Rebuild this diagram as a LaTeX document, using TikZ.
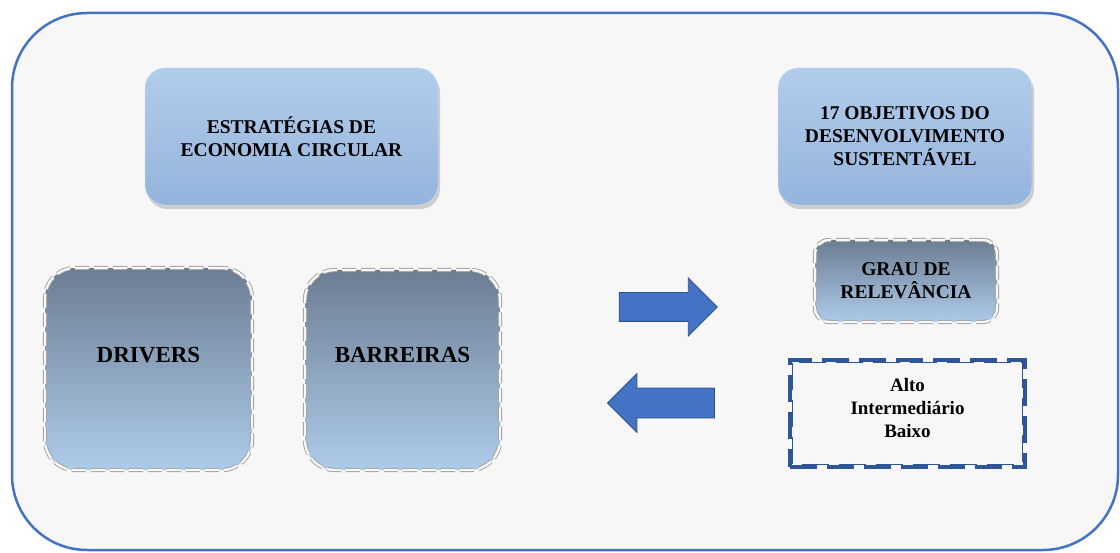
\documentclass[tikz,border=0pt]{standalone}
\usepackage{fontspec}
\setmainfont{Liberation Serif}
\usepackage{xcolor}
\usepackage{tikz}
\usetikzlibrary{positioning}
\usetikzlibrary{shapes.arrows}
\usetikzlibrary{shadows}
\definecolor{moldura}{HTML}{4472C4}
\definecolor{fundo}{HTML}{F7F7F7}
\definecolor{azulclaro}{HTML}{B2CCEB}
\definecolor{azulmedio}{HTML}{95B4DC}
\definecolor{ardosia}{HTML}{6C7D92}
\definecolor{ardosiaclara}{HTML}{AECBEA}
\definecolor{azulescuro}{HTML}{2E5597}
\definecolor{setaborda}{HTML}{2F528F}
\tikzstyle{caixa} = [rectangle, rounded corners = 20pt, draw = azulclaro!60!white, top color = azulclaro, bottom color = azulmedio, drop shadow = {shadow xshift = 2pt, shadow yshift = -4pt, opacity = .35}, align = center, inner sep = 2, font = \bfseries\fontsize{19.5}{23}\selectfont]
\tikzstyle{fator} = [rectangle, draw = gray!75, double = white!94!gray, double distance = 2.4pt, line width = .9pt, dash pattern = on 14pt off 5pt, top color = ardosia, bottom color = ardosiaclara, align = center, inner sep = 2]
\tikzstyle{seta} = [single arrow, draw = setaborda, fill = moldura, line width = .8pt, inner sep = 0pt, single arrow head extend = 14.5pt]
\tikzstyle{nivel} = [rectangle, draw = azulescuro, line width = 3.5pt, dash pattern = on 27pt off 10pt, align = center, font = \bfseries\fontsize{19}{23}\selectfont]

\begin{document}
\begin{tikzpicture}[x = 1pt, y = -1pt]
\useasboundingbox (0, 0) rectangle (1120, 553);
% moldura externa
\draw [draw = moldura, line width = 2.5pt, fill = fundo, rounded corners = 75pt] (12, 13) rectangle (1118, 550);
\node [caixa, minimum width = 293pt, minimum height = 137pt] (EC) at (291.5, 136.5) {ESTRAT\'EGIAS DE\\ECONOMIA CIRCULAR};
\node [caixa, minimum width = 254pt, minimum height = 137pt] (ODS) at (905, 136.5) {17 OBJETIVOS DO\\DESENVOLVIMENTO\\SUSTENT\'AVEL};
\node [fator, rounded corners = 30pt, minimum width = 207pt, minimum height = 202pt, text depth = 28pt, font = \bfseries\fontsize{23}{27}\selectfont] (DR) at (148.5, 369) {DRIVERS};
\node [fator, rounded corners = 30pt, minimum width = 195pt, minimum height = 200pt, text depth = 30pt, font = \bfseries\fontsize{23}{27}\selectfont] (BA) at (402.5, 370) {BARREIRAS};
\node [fator, rounded corners = 14pt, minimum width = 182pt, minimum height = 82pt, font = \bfseries\fontsize{19.5}{23}\selectfont] (GR) at (906, 281) {GRAU DE\\RELEV\^ANCIA};
\node [nivel, minimum width = 235pt, minimum height = 107pt, text depth = 12pt] (NV) at (907.5, 413.5) {Alto\\Intermedi\'ario\\Baixo};
\draw [draw = azulescuro, line width = 1.4pt, dash pattern = on 27pt off 10pt] ([xshift = 4.5pt, yshift = -4.5pt]NV.north west) rectangle ([xshift = -4.5pt, yshift = 4.5pt]NV.south east);
% setas
\node [seta, inner ysep = 14pt, minimum height = 98pt] (SD) at (661, 307) {};
\node [seta, inner ysep = 14.5pt, minimum height = 107pt, shape border rotate = 180] (SE) at (668.5, 403) {};
\end{tikzpicture}
\end{document}
